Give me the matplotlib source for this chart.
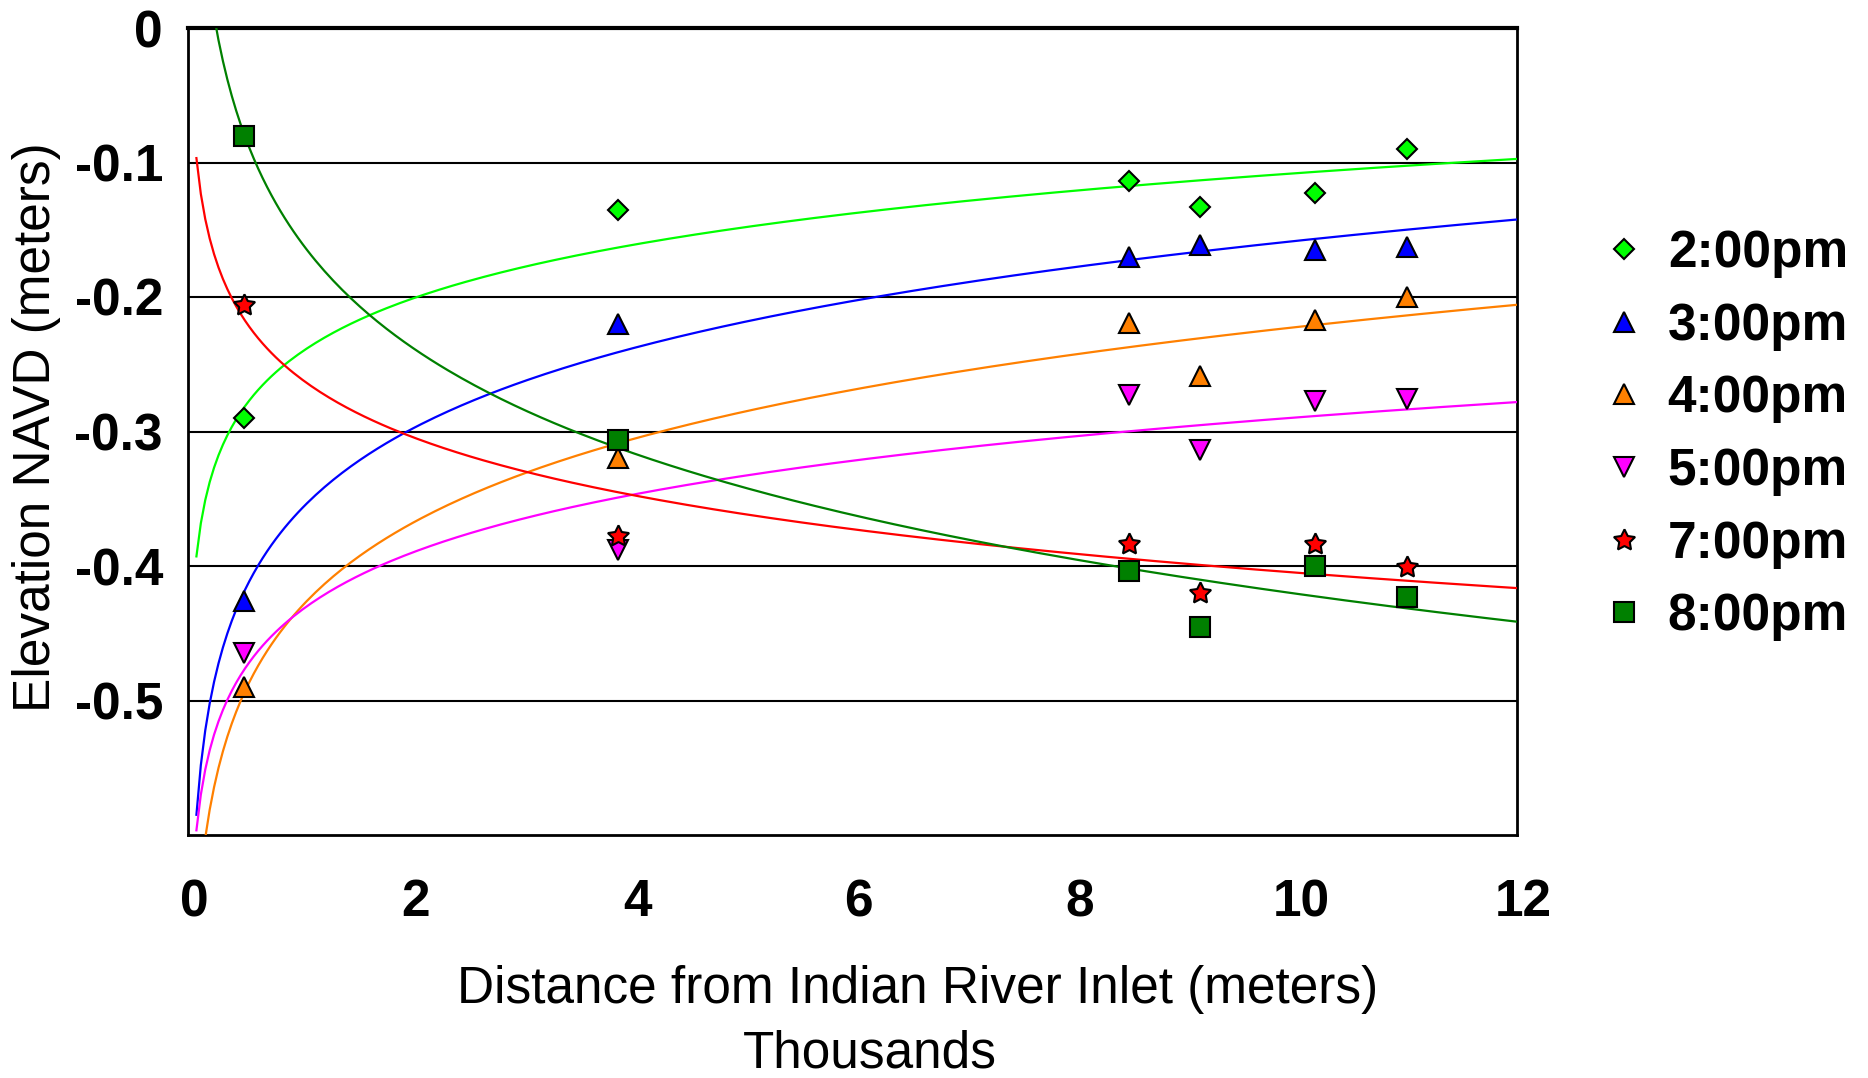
import matplotlib
matplotlib.use("Agg")
import matplotlib.pyplot as plt
import matplotlib.transforms as mtransforms
import numpy as np

plt.rcParams['font.family'] = ['Liberation Sans', 'DejaVu Sans']

# distance from inlet (thousands of meters)
distance = [0.51, 3.88, 8.50, 9.14, 10.18, 11.01]

labels = ['2:00pm', '3:00pm', '4:00pm', '5:00pm', '7:00pm', '8:00pm']
elev_2pm = [-0.290, -0.135, -0.114, -0.133, -0.123, -0.090]
elev_3pm = [-0.426, -0.220, -0.170, -0.161, -0.165, -0.163]
elev_4pm = [-0.490, -0.320, -0.219, -0.259, -0.217, -0.200]
elev_5pm = [-0.465, -0.388, -0.273, -0.314, -0.277, -0.276]
elev_7pm = [-0.206, -0.378, -0.384, -0.420, -0.384, -0.401]
elev_8pm = [-0.080, -0.306, -0.404, -0.445, -0.400, -0.423]
series = [elev_2pm, elev_3pm, elev_4pm, elev_5pm, elev_7pm, elev_8pm]

colors = ['#00ff00', '#0000ff', '#ff8000', '#ff00ff', '#ff0000', '#008000']
markers = ['D', '^', '^', 'v', (5, 1, 0), 's']
msizes = [10.5, 14, 14, 14, 16, 14]

fig = plt.figure(figsize=(18.68, 10.78), dpi=100)
ax = fig.add_axes([188 / 1868, 1 - 835 / 1078, (1517 - 188) / 1868, (835 - 28) / 1078])

# logarithmic trendlines (least squares on ln x)
xfit = np.linspace(0.076, 12, 300)
for ys, c in zip(series, colors):
    slope, icpt = np.polyfit(np.log(distance), ys, 1)
    ax.plot(xfit, slope * np.log(xfit) + icpt, color=c, lw=1.6, zorder=3)

for ys, c, m, ms, lab in zip(series, colors, markers, msizes, labels):
    ax.plot(distance, ys, linestyle='none', marker=m, ms=ms, mfc=c, mec='black',
            mew=1.5, label=lab, zorder=4)

ax.set_xlim(0, 12)
ax.set_ylim(-0.6, 0)
ax.set_xticks([0, 2, 4, 6, 8, 10, 12])
ax.set_yticks([-0.5, -0.4, -0.3, -0.2, -0.1, 0])
ax.set_yticklabels(['-0.5', '-0.4', '-0.3', '-0.2', '-0.1', '0'])
ax.tick_params(length=0, labelsize=37)
ax.tick_params(axis='x', pad=31)
ax.tick_params(axis='y', pad=18)
shift = mtransforms.ScaledTranslation(6 / 100, 0, fig.dpi_scale_trans)
for t in ax.get_xticklabels():
    t.set_fontweight('bold')
    t.set_transform(t.get_transform() + shift)
for t in ax.get_yticklabels():
    t.set_fontweight('bold')

ax.grid(axis='y', color='black', lw=1.5, zorder=1)
for side in ['left', 'bottom', 'right']:
    ax.spines[side].set_linewidth(2)
ax.spines['top'].set_linewidth(3)

fig.text(918 / 1868, 1 - 1003 / 1078, 'Distance from Indian River Inlet (meters)',
         fontsize=37, ha='center', va='baseline')
fig.text(870 / 1868, 1 - 1067 / 1078, 'Thousands', fontsize=37, ha='center', va='baseline')
fig.text(37 / 1868, 1 - 427 / 1078, 'Elevation NAVD (meters)', fontsize=37,
         rotation=90, ha='center', va='center')

fig.legend(loc='upper left', bbox_to_anchor=(1603 / 1868, 1 - 229 / 1078),
           frameon=False, numpoints=1, handlelength=0.8, handletextpad=0.46,
           labelspacing=0.46, borderpad=0, borderaxespad=0,
           prop={'size': 37, 'weight': 'bold'})

fig.savefig('out.png', dpi=100, facecolor='white')
